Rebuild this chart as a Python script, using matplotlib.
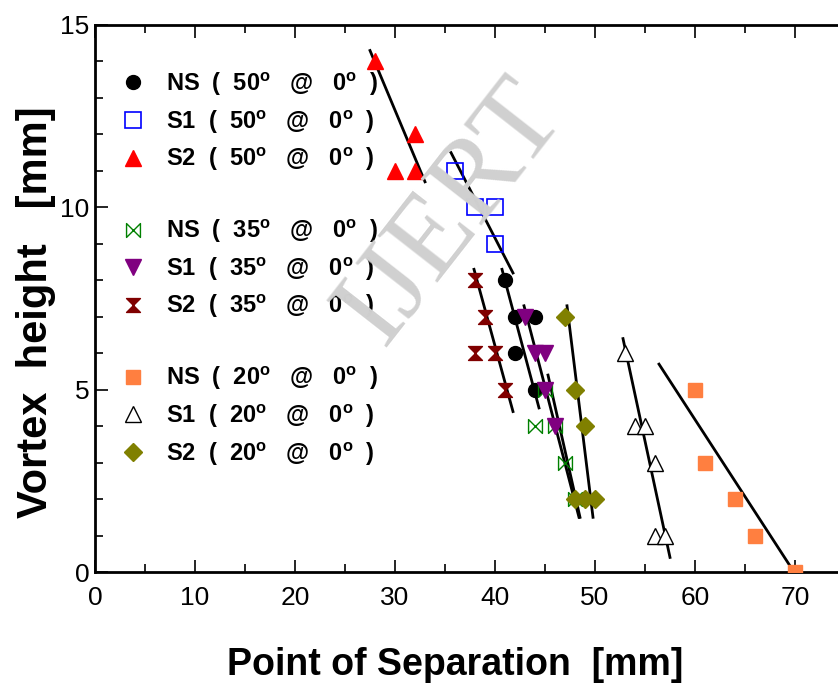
import matplotlib
matplotlib.use("Agg")
import matplotlib.pyplot as plt
from matplotlib.path import Path
from matplotlib.lines import Line2D

plt.rcParams['font.family'] = ['Liberation Sans', 'DejaVu Sans']
plt.rcParams['mathtext.default'] = 'regular'

# data: x = point of separation [mm], y = vortex height [mm]
ns50_x = [41, 42, 44, 42, 44]
ns50_y = [8, 7, 7, 6, 5]
s150_x = [36, 38, 40, 40]
s150_y = [11, 10, 10, 9]
s250_x = [28, 30, 32, 32]
s250_y = [14, 11, 11, 12]
ns35_x = [45, 44, 46, 47, 48]
ns35_y = [5, 4, 4, 3, 2]
s135_x = [43, 44, 45, 45, 46]
s135_y = [7, 6, 6, 5, 4]
s235_x = [38, 39, 38, 40, 41]
s235_y = [8, 7, 6, 6, 5]
ns20_x = [60, 61, 64, 66, 70]
ns20_y = [5, 3, 2, 1, 0]
s120_x = [53, 54, 55, 56, 56, 57]
s120_y = [6, 4, 4, 3, 1, 1]
s220_x = [47, 48, 49, 48, 49, 50]
s220_y = [7, 5, 4, 2, 2, 2]

# fitted trend lines (end points)
fit_s250 = ([27.5, 33.0], [14.3, 10.7])
fit_s150 = ([35.6, 41.8], [11.5, 8.2])
fit_ns50 = ([40.7, 44.4], [8.3, 4.5])
fit_s235 = ([37.9, 41.8], [8.3, 4.4])
fit_s135 = ([42.9, 48.4], [7.3, 1.5])
fit_ns35 = ([45.3, 48.5], [5.4, 1.5])
fit_s220 = ([47.2, 49.8], [7.3, 1.5])
fit_s120 = ([52.8, 57.5], [6.4, 0.4])
fit_ns20 = ([56.4, 69.9], [5.7, 0.0])

bowtie = Path([(-1, 1), (-1, -1), (1, 1), (1, -1), (-1, 1)],
              [Path.MOVETO, Path.LINETO, Path.LINETO, Path.LINETO, Path.CLOSEPOLY])
hourglass = Path([(-1, 1), (1, 1), (-1, -1), (1, -1), (-1, 1)],
                 [Path.MOVETO, Path.LINETO, Path.LINETO, Path.LINETO, Path.CLOSEPOLY])

fig = plt.figure(figsize=(8.38, 6.87), dpi=100)
ax = fig.add_axes([95 / 838, 115 / 687, 750 / 838, 547 / 687])

fig.text(0.54, 0.69, "IJERT", family='Liberation Serif', fontsize=84,
         color='#d0d0d0', rotation=52, ha='center', va='center', zorder=0)

for fx, fy in [fit_s250, fit_s150, fit_ns50, fit_s235, fit_s135, fit_ns35,
               fit_s220, fit_s120, fit_ns20]:
    ax.plot(fx, fy, color='black', lw=2.0, zorder=3)

def lab(name, ang):
    return name + "  (  " + ang + "$^{o}$   @   0$^{o}$  )"

series = [
    (ns50_x, ns50_y, dict(marker='o', ms=10, mfc='black', mec='black'), lab("NS", "50")),
    (s150_x, s150_y, dict(marker='s', ms=11, mfc='none', mec='#0000ff', mew=1.2), lab("S1", "50")),
    (s250_x, s250_y, dict(marker='^', ms=11, mfc='#ff0000', mec='#ff0000'), lab("S2", "50")),
    (ns35_x, ns35_y, dict(marker=bowtie, ms=10, mfc='none', mec='#008000', mew=1.0), lab("NS", "35")),
    (s135_x, s135_y, dict(marker='v', ms=11, mfc='#800080', mec='#800080'), lab("S1", "35")),
    (s235_x, s235_y, dict(marker=hourglass, ms=10, mfc='#800000', mec='#800000'), lab("S2", "35")),
    (ns20_x, ns20_y, dict(marker='s', ms=10, mfc='#ff7f40', mec='#ff7f40'), lab("NS", "20")),
    (s120_x, s120_y, dict(marker='^', ms=11, mfc='white', mec='black', mew=1.0), lab("S1", "20")),
    (s220_x, s220_y, dict(marker='D', ms=9, mfc='#808000', mec='#808000'), lab("S2", "20")),
]

handles, labels = [], []
for i, (x, y, st, text) in enumerate(series):
    h, = ax.plot(x, y, ls='none', zorder=4, **st)
    handles.append(h)
    labels.append(text)
    if i in (2, 5):
        handles.append(Line2D([], [], ls='none'))
        labels.append(' ')

leg = ax.legend(handles, labels, loc='upper left', bbox_to_anchor=(0.013, 0.947),
                frameon=False, handlelength=1.0, handletextpad=0.9,
                labelspacing=0.45, borderaxespad=0.3,
                prop=dict(weight='bold', size=17))

ax.set_xlim(0, 75)
ax.set_ylim(0, 15)
ax.set_xticks(range(0, 71, 10))
ax.set_xticks(range(0, 75, 5), minor=True)
ax.set_yticks([0, 5, 10, 15])
ax.set_yticks(range(0, 16), minor=True)
ax.tick_params(which='both', direction='in', top=True, right=False, width=1.2)
ax.tick_params(which='major', length=9, labelsize=19)
ax.tick_params(which='minor', length=6)
ax.tick_params(axis='x', pad=10)
ax.tick_params(axis='y', pad=4)
for s in ['left', 'bottom', 'top']:
    ax.spines[s].set_linewidth(2.0)
ax.spines['right'].set_visible(False)

ax.set_xlabel("Point of Separation  [mm]", fontsize=27, weight='bold', va='center')
ax.set_ylabel("Vortex  height   [mm]", fontsize=30, weight='bold', va='center')
ax.xaxis.set_label_coords((455 - 95) / 750, (572 - 665) / 547)
ax.yaxis.set_label_coords((36 - 95) / 750, (572 - 312) / 547)

fig.savefig("out.png", dpi=100)
